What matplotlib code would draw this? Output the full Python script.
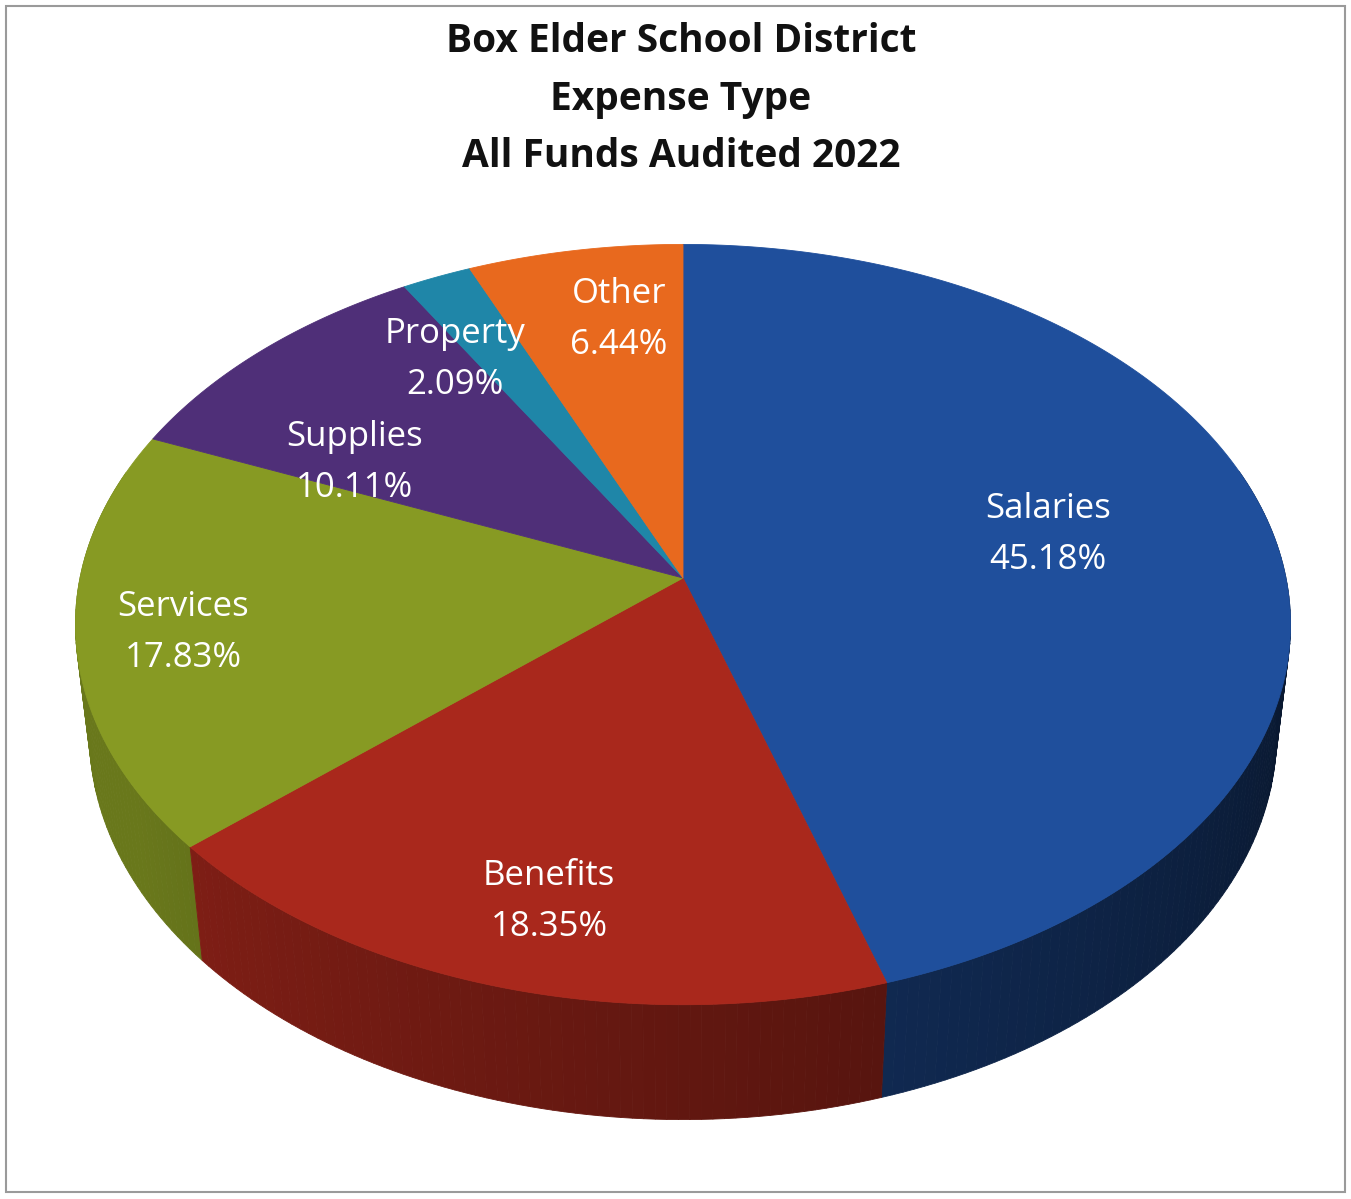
"""
Box Elder School District - expense type pie (3D look, drawn by hand).
"""
import numpy as np
import matplotlib
matplotlib.use("Agg")
import matplotlib.pyplot as plt
from matplotlib.patches import Polygon, Rectangle

# data
categories = ["Salaries", "Benefits", "Services", "Supplies", "Property", "Other"]
percents = [45.18, 18.35, 17.83, 10.11, 2.09, 6.44]
colors = ["#1f4f9c", "#a9281c", "#879a23", "#4f2f78", "#1f86a8", "#e8691e"]
title_lines = ["Box Elder School District", "Expense Type", "All Funds Audited 2022"]

# label anchors (centre x, baseline of name line) in pixels
label_pos = [(1048, 518), (549, 885), (183, 616), (354, 446), (455, 343), (619, 303)]

W, H = 1351, 1199
plt.rcParams['font.family'] = ['Open Sans', 'DejaVu Sans']

# simple perspective camera for a tilted disc
F = 3859.0
D = 6.4
sb = 0.621
cb = np.sqrt(1 - sb ** 2)
CX, CY = 683.0, 578.0
T = 0.24


def project(x, z, h=0.0):
    v0 = z * sb + h * cb
    d = z * cb - h * sb
    return CX + F * x / (D + d), CY - F * v0 / (D + d)


def shade(rgb, f):
    return tuple(np.clip(np.array(rgb) * f, 0, 1))


fig = plt.figure(figsize=(W / 100, H / 100), dpi=100)
ax = fig.add_axes([0, 0, 1, 1])
ax.set_xlim(0, W)
ax.set_ylim(H, 0)
ax.axis("off")

# chart border
ax.add_patch(Rectangle((6, 6), W - 12, H - 13, fill=False, ec="#9a9a9a", lw=1.5))

bounds = np.concatenate([[0], np.cumsum(percents)]) / 100 * 360

# side walls, drawn as thin quads so they can be shaded by angle
quads = []
for i, c in enumerate(colors):
    rgb = matplotlib.colors.to_rgb(c)
    a0, a1 = bounds[i], bounds[i + 1]
    steps = np.linspace(a0, a1, max(int(a1 - a0) + 2, 3))
    for p, q in zip(steps[:-1], steps[1:]):
        m = np.radians((p + q) / 2)
        if np.cos(m) > 0.3:
            continue
        pts = []
        for ang in (p, q):
            r = np.radians(ang)
            pts.append(project(np.sin(r), np.cos(r), 0))
        for ang in (q, p):
            r = np.radians(ang)
            pts.append(project(np.sin(r), np.cos(r), -T))
        phi = (p + q) / 2
        f = np.clip(0.3 + (phi - 100) / 130 * 0.45, 0.28, 0.78)
        col = shade(rgb, f)
        quads.append((np.cos(m), Polygon(pts, closed=True, fc=col, ec=col, lw=0.6)))

for _, poly in sorted(quads, key=lambda t: -t[0]):
    ax.add_patch(poly)

# top faces
for i, c in enumerate(colors):
    a = np.radians(np.linspace(bounds[i], bounds[i + 1], 200))
    pts = [project(0, 0)] + [project(np.sin(t), np.cos(t)) for t in a]
    ax.add_patch(Polygon(pts, closed=True, fc=c, ec=c, lw=0.6))

# labels
for name, pct, (lx, ly) in zip(categories, percents, label_pos):
    ax.text(lx, ly, name, color="white", fontsize=25, ha="center", va="baseline")
    ax.text(lx, ly + 51, f"{pct:.2f}%", color="white", fontsize=25, ha="center", va="baseline")

# title
for k, line in enumerate(title_lines):
    ax.text(681, [52, 110, 167][k], line, fontsize=28, fontweight="bold",
            ha="center", va="baseline", color="#111111")

fig.savefig("out.png", dpi=100)
